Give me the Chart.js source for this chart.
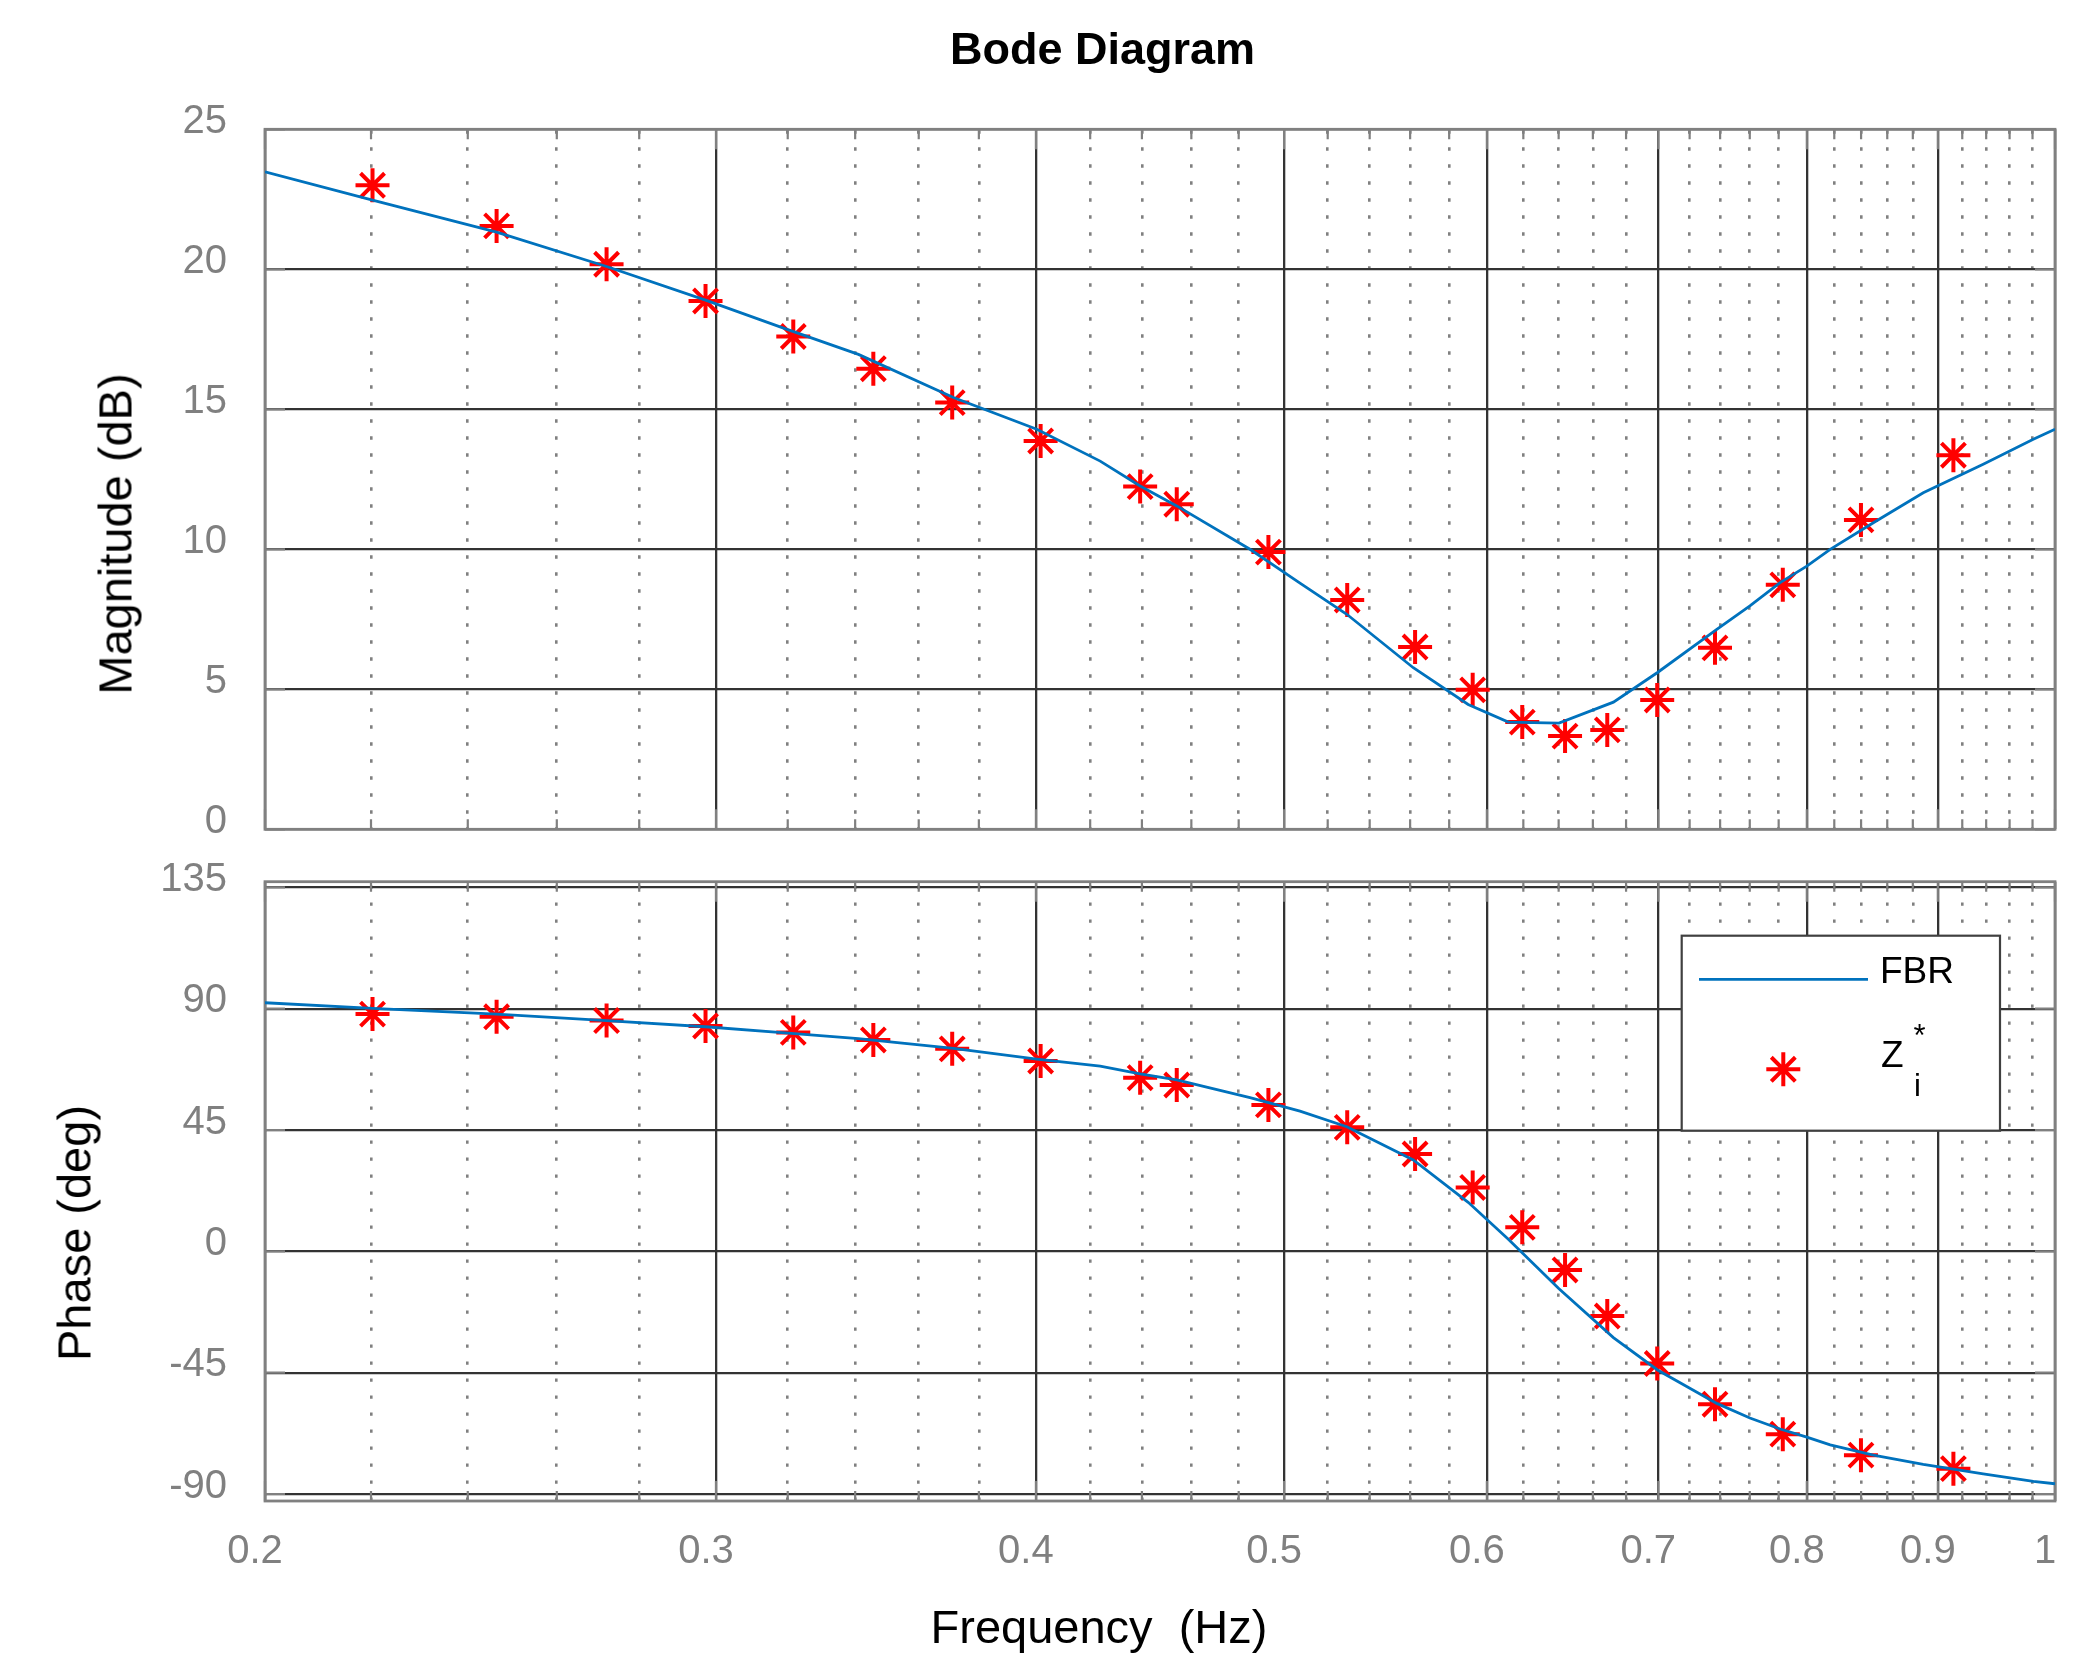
<!DOCTYPE html>
<html>
<head>
<meta charset="utf-8">
<title>Bode Diagram</title>
<script src="https://cdn.jsdelivr.net/npm/chart.js@4.4.1/dist/chart.umd.min.js"></script>
<style>
  html, body { margin: 0; padding: 0; background: #fff; }
  #page { position: relative; width: 2089px; height: 1656px; overflow: hidden; font-family: 'Liberation Sans', Arial, Helvetica, sans-serif; }
  canvas { position: absolute; left: 0; top: 0; }
  .lbl { position: absolute; white-space: pre; line-height: 1; color: #000; transform: translate(-50%, -50%); }
  .rot { transform: translate(-50%, -50%) rotate(-90deg); }
</style>
</head>
<body>
<div id="page">
  <canvas id="mag" width="2089" height="1656"></canvas>
  <canvas id="phase" width="2089" height="1656"></canvas>
  <div class="lbl" style="left:1102.5px; top:48.4px; font-size:45px; font-weight:bold">Bode Diagram</div>
  <div class="lbl rot" style="left:115px; top:534px; font-size:47px">Magnitude (dB)</div>
  <div class="lbl rot" style="left:74px; top:1233px; font-size:47px">Phase (deg)</div>
  <div class="lbl" style="left:1099px; top:1625.5px; font-size:47px">Frequency  (Hz)</div>
</div>
<script>
// axis ticks
const freqMajor = [0.2, 0.3, 0.4, 0.5, 0.6, 0.7, 0.8, 0.9, 1]
const freqLabels = ['0.2', '0.3', '0.4', '0.5', '0.6', '0.7', '0.8', '0.9', '1']
const freqMinor = [0.22, 0.24, 0.26, 0.28, 0.32, 0.34, 0.36, 0.38, 0.42, 0.44, 0.46, 0.48,
                   0.52, 0.54, 0.56, 0.58, 0.62, 0.64, 0.66, 0.68, 0.72, 0.74, 0.76, 0.78,
                   0.82, 0.84, 0.86, 0.88, 0.92, 0.94, 0.96, 0.98]
const magTicks = [0, 5, 10, 15, 20, 25]
const phaseTicks = [-90, -45, 0, 45, 90, 135]

// FBR model curve
const fbrFreq = [0.2, 0.2203, 0.2463, 0.2719, 0.2972, 0.3192, 0.3410, 0.3714, 0.4003, 0.4238, 0.4393,
                 0.4540, 0.4849, 0.5072, 0.5290, 0.5616, 0.5900, 0.6117, 0.6402, 0.6723, 0.6995,
                 0.7378, 0.7601, 0.7810, 0.8000, 0.8170, 0.8493, 0.8883, 0.9375, 0.9807, 1.0]
const fbrMag = [23.48, 22.47, 21.33, 20.10, 18.90, 17.88, 16.96, 15.42, 14.29, 13.15, 12.26,
                11.55, 10.00, 8.79, 7.68, 5.77, 4.46, 3.83, 3.79, 4.54, 5.60,
                7.14, 7.98, 8.81, 9.40, 10.00, 10.95, 12.02, 13.04, 13.93, 14.29]
const fbrPhase = [92.2, 90.1, 88.0, 85.6, 83.3, 81.0, 78.9, 75.3, 71.3, 68.7, 65.8,
                  63.6, 57.0, 52.0, 46.2, 33.9, 18.2, 4.5, -13.9, -32.0, -44.0,
                  -56.4, -61.8, -65.9, -68.9, -71.8, -75.6, -79.0, -82.5, -85.3, -86.2]

// measured Zi* points
const zFreq = [0.2203, 0.2463, 0.2719, 0.2972, 0.3216, 0.3456, 0.3710, 0.4017, 0.4393, 0.4540, 0.4930,
               0.5292, 0.5625, 0.5924, 0.6194, 0.6437, 0.6686, 0.6993, 0.7366, 0.7829, 0.8399, 0.9127]
const zMag = [23.0, 21.55, 20.18, 18.87, 17.6, 16.45, 15.24, 13.87, 12.24, 11.61, 9.90,
              8.19, 6.51, 4.98, 3.83, 3.33, 3.55, 4.62, 6.48, 8.73, 11.05, 13.36]
const zPhase = [88.0, 87.0, 85.6, 83.6, 81.2, 78.4, 75.1, 70.6, 64.4, 61.7, 54.3,
                46.0, 36.1, 23.7, 8.9, -6.9, -24.0, -41.6, -56.7, -67.8, -75.6, -80.6]

const GRAY = '#808080'
const GRID = '#333333'
const BLUE = '#0072BD'
const RED = '#FF0000'
const FONT = "'Liberation Sans', Arial, Helvetica, sans-serif"

function isMajor(v) {
    return freqMajor.some(m => Math.abs(m - v) < 1e-6)
}

function points(xs, ys) {
    return xs.map((x, i) => ({x: x, y: ys[i]}))
}

function drawStar(ctx, x, y, r) {
    ctx.beginPath()
    for (let k = 0; k < 4; k++) {
        const a = k * Math.PI / 4
        ctx.moveTo(x - Math.cos(a) * r, y - Math.sin(a) * r)
        ctx.lineTo(x + Math.cos(a) * r, y + Math.sin(a) * r)
    }
    ctx.stroke()
}

// gray box and inward tick marks, drawn over the grid
const boxPlugin = {
    id: 'box',
    beforeDatasetsDraw(chart) {
        const {ctx, chartArea: a, scales} = chart
        ctx.save()
        ctx.strokeStyle = GRAY
        ctx.lineWidth = 2.2
        ctx.beginPath()
        scales.y.ticks.forEach(t => {
            const py = scales.y.getPixelForValue(t.value)
            ctx.moveTo(a.left, py); ctx.lineTo(a.left + 20, py)
            ctx.moveTo(a.right - 20, py); ctx.lineTo(a.right, py)
        })
        scales.x.ticks.forEach(t => {
            const px = scales.x.getPixelForValue(t.value)
            const len = isMajor(t.value) ? 20 : 10
            ctx.moveTo(px, a.top); ctx.lineTo(px, a.top + len)
            ctx.moveTo(px, a.bottom - len); ctx.lineTo(px, a.bottom)
        })
        ctx.stroke()
        ctx.lineWidth = 2.8
        ctx.strokeRect(a.left, a.top, a.right - a.left, a.bottom - a.top)
        ctx.restore()
    }
}

const legendPlugin = {
    id: 'bodeLegend',
    afterDraw(chart) {
        const ctx = chart.ctx
        ctx.save()
        ctx.fillStyle = '#fff'
        ctx.fillRect(1681.7, 935.7, 318.3, 195)
        ctx.strokeStyle = '#404040'
        ctx.lineWidth = 2.2
        ctx.strokeRect(1681.7, 935.7, 318.3, 195)
        ctx.strokeStyle = BLUE
        ctx.lineWidth = 2.8
        ctx.beginPath()
        ctx.moveTo(1699, 979.3)
        ctx.lineTo(1868, 979.3)
        ctx.stroke()
        ctx.strokeStyle = RED
        ctx.lineWidth = 4
        drawStar(ctx, 1783.3, 1069.3, 17)
        ctx.fillStyle = '#000'
        ctx.textAlign = 'left'
        ctx.textBaseline = 'alphabetic'
        ctx.font = '37px ' + FONT
        ctx.fillText('FBR', 1880, 982.7)
        ctx.fillText('Z', 1881, 1066.7)
        ctx.font = '31px ' + FONT
        ctx.fillText('*', 1913.5, 1045.6)
        ctx.fillText('i', 1914, 1096)
        ctx.restore()
    }
}

function xScale(showLabels, dashOffset) {
    return {
        type: 'logarithmic',
        min: 0.2,
        max: 1,
        afterBuildTicks: s => {
            s.ticks = freqMajor.concat(freqMinor).sort((a, b) => a - b).map(v => ({value: v}))
        },
        afterFit: s => {
            s.height = showLabels ? 155 : 0
            s.paddingLeft = 0
            s.paddingRight = 0
        },
        grid: {
            drawTicks: false,
            color: c => (c.tick && !isMajor(c.tick.value)) ? GRAY : GRID,
            lineWidth: c => (c.tick && !isMajor(c.tick.value)) ? 2.6 : 2.3
        },
        border: {
            display: false,
            dash: c => (c.tick && !isMajor(c.tick.value)) ? [3.4, 13.6] : [],
            dashOffset: dashOffset
        },
        ticks: {
            display: showLabels,
            autoSkip: false,
            maxRotation: 0,
            padding: 26.5,
            labelOffset: -10,
            color: GRAY,
            font: {family: FONT, size: 40},
            callback: v => {
                const i = freqMajor.findIndex(m => Math.abs(m - v) < 1e-6)
                return i < 0 ? '' : freqLabels[i]
            }
        }
    }
}

function yScale(tickValues, min, max) {
    return {
        min: min,
        max: max,
        afterBuildTicks: s => {
            s.ticks = tickValues.map(v => ({value: v}))
        },
        afterFit: s => {
            s.width = 265
            s.paddingTop = 0
            s.paddingBottom = 0
        },
        grid: {drawTicks: false, color: GRID, lineWidth: 2.3},
        border: {display: false},
        ticks: {
            padding: 38,
            labelOffset: -7.5,
            color: GRAY,
            font: {family: FONT, size: 40},
            callback: v => String(v)
        }
    }
}

function bodeChart(id, ys, zs, y, x, padding, plugins) {
    return new Chart(document.getElementById(id), {
        type: 'line',
        data: {
            datasets: [
                {
                    label: 'FBR',
                    data: points(fbrFreq, ys),
                    borderColor: BLUE,
                    borderWidth: 2.8,
                    pointRadius: 0,
                    tension: 0,
                    fill: false
                },
                {
                    label: 'Zi*',
                    data: points(zFreq, zs),
                    showLine: false,
                    pointStyle: 'star',
                    pointRadius: 17,
                    pointBorderColor: RED,
                    pointBorderWidth: 4,
                    borderColor: RED,
                    backgroundColor: RED
                }
            ]
        },
        options: {
            responsive: false,
            animation: false,
            devicePixelRatio: 1,
            events: [],
            layout: {padding: padding},
            plugins: {
                legend: {display: false},
                tooltip: {enabled: false},
                title: {display: false}
            },
            scales: {x: x, y: y}
        },
        plugins: plugins
    })
}

bodeChart('mag', fbrMag, zMag,
    yScale(magTicks, 0, 25),
    xScale(false, 15.95),
    {top: 129.3, bottom: 826.7, left: 0, right: 34},
    [boxPlugin])

bodeChart('phase', fbrPhase, zPhase,
    yScale(phaseTicks, -92.6, 137.1),
    xScale(true, 13.3),
    {top: 881.7, bottom: 0, left: 0, right: 34},
    [boxPlugin, legendPlugin])
</script>
</body>
</html>
